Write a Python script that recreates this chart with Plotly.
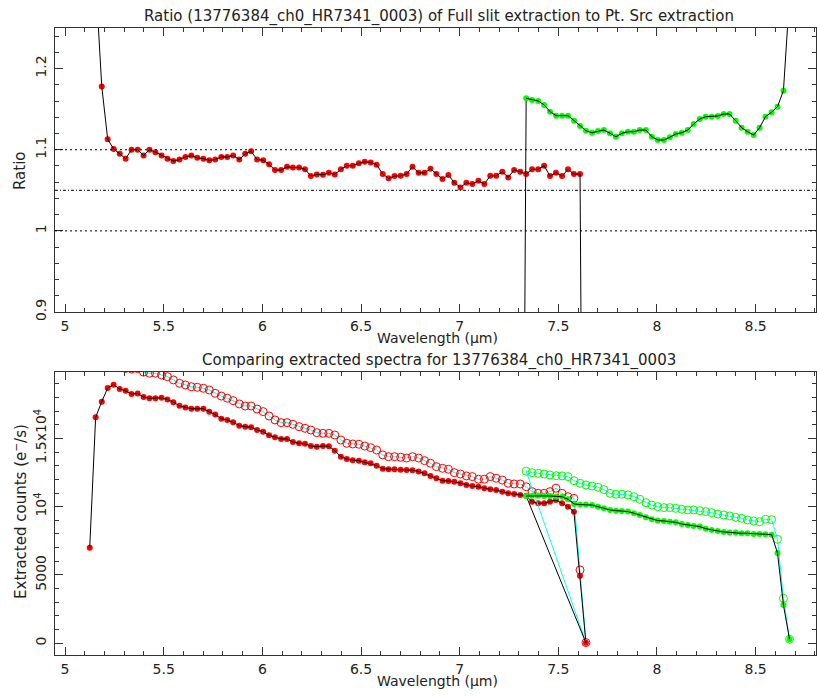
import plotly.graph_objects as go

# ---------------- data ----------------
red_x = [5.125, 5.155, 5.186, 5.216, 5.246, 5.277, 5.307, 5.337, 5.368, 5.398,
         5.428, 5.458, 5.489, 5.519, 5.549, 5.580, 5.610, 5.640, 5.670, 5.701,
         5.731, 5.761, 5.792, 5.822, 5.852, 5.883, 5.913, 5.943, 5.973, 6.004,
         6.034, 6.064, 6.095, 6.125, 6.155, 6.186, 6.216, 6.246, 6.276, 6.307,
         6.337, 6.367, 6.398, 6.428, 6.458, 6.489, 6.519, 6.549, 6.579, 6.610,
         6.640, 6.670, 6.701, 6.731, 6.761, 6.792, 6.822, 6.852, 6.882, 6.913,
         6.943, 6.973, 7.004, 7.034, 7.064, 7.095, 7.125, 7.155, 7.185, 7.216,
         7.246, 7.276, 7.307, 7.337, 7.367, 7.398, 7.428, 7.458, 7.488, 7.519,
         7.549, 7.579, 7.610, 7.640]

red_ratio = [3.0, 1.31, 1.178, 1.113, 1.101, 1.095, 1.089, 1.100, 1.100, 1.093,
             1.100, 1.097, 1.093, 1.089, 1.086, 1.088, 1.091, 1.093, 1.090, 1.089,
             1.087, 1.088, 1.091, 1.091, 1.093, 1.088, 1.095, 1.098, 1.088, 1.087,
             1.082, 1.075, 1.075, 1.079, 1.078, 1.078, 1.076, 1.0675, 1.0696, 1.0692,
             1.0716, 1.0696, 1.0758, 1.0803, 1.0803, 1.0832, 1.0852, 1.0844, 1.0815, 1.070,
             1.0647, 1.0675, 1.068, 1.070, 1.079, 1.0716, 1.0716, 1.0765, 1.070, 1.0638,
             1.0688, 1.0593, 1.0536, 1.0593, 1.0577, 1.0618, 1.0577, 1.0679, 1.0679, 1.0728,
             1.0659, 1.075, 1.0728, 1.070, 1.0758, 1.0758, 1.0803, 1.0675, 1.0716, 1.0675,
             1.0758, 1.070, 1.070, 0.0]

red_pt = [7000, 16540, 17690, 18690, 18930, 18620, 18480, 18250, 18280, 18030,
          17940, 17940, 17970, 17850, 17650, 17380, 17260, 17170, 17160, 17170,
          16950, 16740, 16440, 16350, 16180, 15930, 15860, 15810, 15610, 15490,
          15220, 15080, 14960, 14960, 14740, 14640, 14610, 14440, 14390, 14440,
          14420, 14100, 13660, 13490, 13400, 13370, 13250, 13170, 13000, 12780,
          12740, 12740, 12700, 12680, 12670, 12580, 12440, 12250, 12080, 11900,
          11880, 11830, 11710, 11590, 11510, 11460, 11350, 11270, 11220, 11100,
          10980, 10930, 10860, 10800, 10360, 10250, 10250, 10360, 10490, 10250,
          10000, 9630, 4950, 30]

red_full = [21000, 21670, 20840, 20800, 20840, 20390, 20120, 20080, 20110, 19850,
            19770, 19770, 19640, 19520, 19280, 19030, 18910, 18780, 18740, 18670,
            18540, 18300, 18100, 17940, 17760, 17520, 17370, 17370, 17150, 16960,
            16640, 16350, 16150, 16150, 16030, 15860, 15740, 15610, 15420, 15370,
            15370, 15250, 14880, 14640, 14590, 14570, 14440, 14320, 14150, 13790,
            13660, 13660, 13620, 13560, 13660, 13560, 13370, 13180, 12930, 12810,
            12740, 12490, 12390, 12250, 12200, 12010, 12010, 12200, 12080, 11950,
            11710, 11660, 11660, 11460, 11100, 10980, 10980, 11100, 11350, 10980,
            10730, 10610, 5370, 50]

green_x = [7.337, 7.367, 7.398, 7.428, 7.458, 7.489, 7.519, 7.549, 7.580, 7.610,
           7.640, 7.671, 7.701, 7.731, 7.762, 7.792, 7.822, 7.853, 7.883, 7.913,
           7.944, 7.974, 8.004, 8.035, 8.065, 8.095, 8.126, 8.156, 8.186, 8.217,
           8.247, 8.277, 8.308, 8.338, 8.368, 8.399, 8.429, 8.459, 8.490, 8.520,
           8.550, 8.581, 8.611, 8.641, 8.672]

green_ratio = [1.1634, 1.1614, 1.1601, 1.1552, 1.1469, 1.142, 1.142, 1.142, 1.1358, 1.1293,
               1.1235, 1.121, 1.1231, 1.1243, 1.1202, 1.116, 1.1202, 1.1222, 1.1222, 1.1243,
               1.1243, 1.116, 1.112, 1.112, 1.1153, 1.1194, 1.121, 1.1243, 1.1317, 1.1379,
               1.1407, 1.1407, 1.1416, 1.144, 1.144, 1.1358, 1.1272, 1.1222, 1.1181, 1.1272,
               1.1407, 1.1462, 1.1531, 1.1728, 1.29]

green_pt = [10780, 10800, 10800, 10790, 10780, 10730, 10730, 10540, 10200, 10150,
            10150, 10120, 10000, 9880, 9760, 9710, 9690, 9640, 9520, 9390,
            9220, 9080, 8980, 8950, 8900, 8850, 8730, 8660, 8590, 8540,
            8390, 8290, 8220, 8150, 8100, 8100, 8050, 8050, 8000, 8000,
            7980, 7950, 6600, 2800, 290]

green_full = [12600, 12490, 12440, 12390, 12320, 12270, 12250, 12200, 11900, 11710,
              11590, 11510, 11420, 11250, 10980, 10910, 10910, 10860, 10730, 10540,
              10290, 10120, 10000, 9930, 9930, 9880, 9810, 9760, 9760, 9710,
              9640, 9560, 9460, 9390, 9320, 9220, 9150, 9030, 8950, 8900,
              9080, 9050, 7610, 3290, 290]

# leading points of the second order (drawn as connecting lines only)
green_lead_ratio_x = [7.307]
green_lead_ratio = [0.0]
green_lead_spec_x = [7.640]
green_lead_pt = [30]
green_lead_full = [50]

ratio_ref_levels = [1.1, 1.05, 1.0]

y2_tickvals = [0, 5000, 10000, 15000]
y2_ticktext = ["0", "5000", "10<sup>4</sup>", "1.5x10<sup>4</sup>"]

title_top = "Ratio (13776384_ch0_HR7341_0003) of Full slit extraction to Pt. Src extraction"
title_bot = "Comparing extracted spectra for 13776384_ch0_HR7341_0003"

# ---------------- style ----------------
RED = "#ff0000"
LIME = "#00ff00"
CYAN = "#00ffff"
BLACK = "#000000"
AXC = "#333333"
FONT = "DejaVu Sans"
TXT = "#222222"

fig = go.Figure()


def filled(x, y, mcol, xa, ya):
    fig.add_trace(go.Scatter(x=x, y=y, mode="markers", xaxis=xa, yaxis=ya,
                             marker=dict(color=mcol, size=6, line=dict(width=0)),
                             showlegend=False, hoverinfo="skip"))
    fig.add_trace(go.Scatter(x=x, y=y, mode="lines", xaxis=xa, yaxis=ya,
                             line=dict(color=BLACK, width=1),
                             showlegend=False, hoverinfo="skip"))


def opened(x, y, mcol, xa, ya):
    fig.add_trace(go.Scatter(x=x, y=y, mode="lines+markers", xaxis=xa, yaxis=ya,
                             line=dict(color=CYAN, width=1),
                             marker=dict(symbol="circle-open", color=mcol, size=8,
                                         line=dict(width=1, color=mcol)),
                             showlegend=False, hoverinfo="skip"))


def lead(x0, y0, x1, y1, col, xa, ya):
    fig.add_trace(go.Scatter(x=[x0, x1], y=[y0, y1], mode="lines", xaxis=xa, yaxis=ya,
                             line=dict(color=col, width=1),
                             showlegend=False, hoverinfo="skip"))


# top panel: ratios
filled(red_x, red_ratio, RED, "x", "y")
lead(green_lead_ratio_x[0], green_lead_ratio[0], green_x[0], green_ratio[0], BLACK, "x", "y")
filled(green_x, green_ratio, LIME, "x", "y")

# bottom panel: spectra
opened(red_x, red_full, RED, "x2", "y2")
filled(red_x, red_pt, RED, "x2", "y2")
lead(green_lead_spec_x[0], green_lead_full[0], green_x[0], green_full[0], CYAN, "x2", "y2")
lead(green_lead_spec_x[0], green_lead_pt[0], green_x[0], green_pt[0], BLACK, "x2", "y2")
opened(green_x, green_full, LIME, "x2", "y2")
filled(green_x, green_pt, LIME, "x2", "y2")

dashes = {1.1: "2px,3px", 1.05: "3px,2px,1px,2px", 1.0: "2px,3px"}
for lv in ratio_ref_levels:
    fig.add_shape(type="line", xref="x domain", yref="y", x0=0, x1=1, y0=lv, y1=lv,
                  line=dict(color=BLACK, width=1, dash=dashes[lv]))

tickfont = dict(family=FONT, size=14, color=TXT)
common = dict(showline=True, linecolor=AXC, linewidth=1, mirror="ticks",
              ticks="inside", ticklen=8, tickwidth=1, tickcolor=AXC,
              showgrid=False, zeroline=False, tickfont=tickfont, automargin=False)
xcommon = dict(common, range=[4.949, 8.806], tickmode="linear", tick0=5, dtick=0.5,
               ticklabelstandoff=1,
               minor=dict(ticks="inside", ticklen=4, tickmode="linear", tick0=5, dtick=0.1,
                          tickcolor=AXC, showgrid=False))

fig.update_layout(
    width=817, height=696,
    paper_bgcolor="white", plot_bgcolor="white",
    margin=dict(l=55, r=1, t=28, b=41, autoexpand=False),
    xaxis=dict(xcommon, anchor="y", domain=[0, 1]),
    yaxis=dict(common, anchor="x", domain=[0.547, 1], range=[0.9, 1.25],
               tickmode="linear", tick0=0.9, dtick=0.1, tickangle=-90, ticklabelstandoff=2,
               minor=dict(ticks="inside", ticklen=4, tickmode="linear", tick0=0.9, dtick=0.02,
                          tickcolor=AXC, showgrid=False)),
    xaxis2=dict(xcommon, anchor="y2", domain=[0, 1]),
    yaxis2=dict(common, anchor="x2", domain=[0, 0.4518], range=[-860, 19880],
                tickmode="array", tickvals=y2_tickvals, ticktext=y2_ticktext,
                tickangle=-90, ticklabelstandoff=2,
                minor=dict(ticks="inside", ticklen=4, tickmode="linear", tick0=0, dtick=1000,
                           tickcolor=AXC, showgrid=False)),
    font=dict(family=FONT, size=14, color=TXT),
    showlegend=False,
)

annots = [
    dict(text=title_top, x=0.505, y=1.019, textangle=0, size=15),
    dict(text=title_bot, x=0.505, y=0.469, textangle=0, size=15),
    dict(text="Wavelength (μm)", x=0.503, y=0.505, textangle=0, size=14),
    dict(text="Wavelength (μm)", x=0.503, y=-0.0415, textangle=0, size=14),
    dict(text="Ratio", x=-0.046, y=0.7735, textangle=-90, size=15),
    dict(text="Extracted counts (e<sup>−</sup>/s)", x=-0.046, y=0.2297, textangle=-90, size=15),
]
for a in annots:
    sz = a.pop("size")
    fig.add_annotation(xref="paper", yref="paper", showarrow=False,
                       xanchor="center", yanchor="middle",
                       font=dict(family=FONT, size=sz, color=TXT), **a)

fig.write_html("out.html", config={"displayModeBar": False},
               post_script="document.body.style.margin='0';document.body.style.padding='0';")
